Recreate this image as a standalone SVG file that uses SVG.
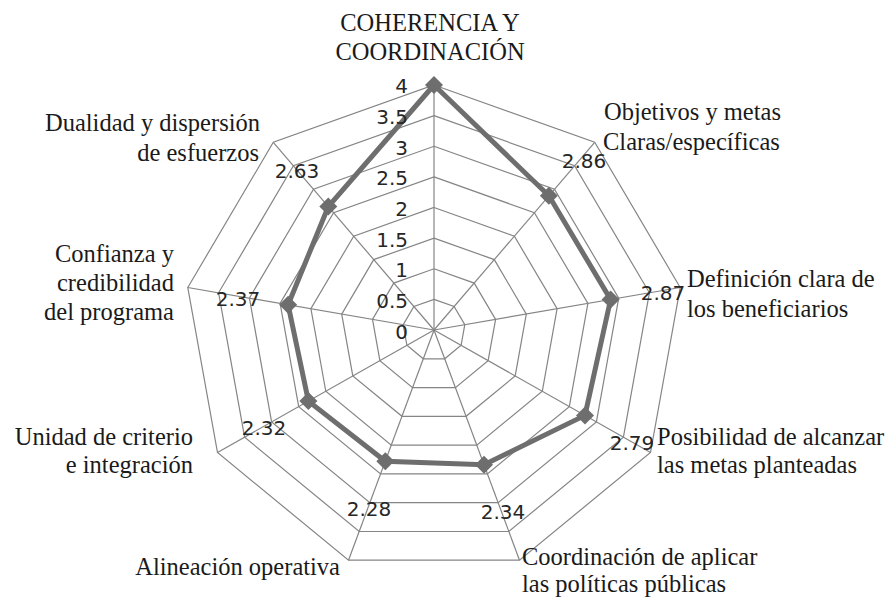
<svg xmlns="http://www.w3.org/2000/svg" width="895" height="597" viewBox="0 0 895 597">
<style>
.grid{fill:none;stroke:#858585;stroke-width:1.2}
.spoke{stroke:#858585;stroke-width:1.2}
.series{fill:none;stroke:#6e6e6e;stroke-width:5;stroke-linejoin:miter}
.mk{fill:#6e6e6e}
.tick{font-family:"DejaVu Sans",sans-serif;font-size:20px;fill:#262626;text-anchor:end}
.val{font-family:"DejaVu Sans",sans-serif;font-size:20px;fill:#262626;text-anchor:middle}
.cat{font-family:"Liberation Serif",serif;font-size:24.5px;fill:#1a1a1a}
.end{text-anchor:end}
.mid{text-anchor:middle}
</style>
<defs>
<path id="dm" d="M0,-9 L9,0 L0,9 L-9,0 Z"/>
</defs>
<rect width="895" height="597" fill="#ffffff"/>
<g id="grid">
<polygon class="grid" points="434,299.4 454.1,306.5 464.8,324.7 461.1,345.3 444.7,358.8 423.3,358.8 406.9,345.3 403.2,324.7 413.9,306.5"/>
<polygon class="grid" points="434,268.8 474.2,283.1 495.6,319.4 488.1,360.6 455.4,387.6 412.6,387.6 379.9,360.6 372.5,319.4 393.8,283.1"/>
<polygon class="grid" points="434,238.1 494.3,259.6 526.3,314.1 515.2,375.9 466.1,416.3 402.0,416.3 352.8,375.9 341.7,314.1 373.7,259.6"/>
<polygon class="grid" points="434,207.5 514.4,236.2 557.1,308.7 542.3,391.3 476.8,445.1 391.3,445.1 325.8,391.3 310.9,308.7 353.7,236.2"/>
<polygon class="grid" points="434,176.9 534.4,212.7 587.9,303.4 569.3,406.6 487.4,473.9 380.6,473.9 298.7,406.6 280.1,303.4 333.6,212.7"/>
<polygon class="grid" points="434,146.3 554.5,189.3 618.7,298.1 596.4,421.9 498.1,502.7 369.9,502.7 271.6,421.9 249.4,298.1 313.5,189.3"/>
<polygon class="grid" points="434,115.6 574.6,165.8 649.4,292.8 623.4,437.2 508.8,531.5 359.2,531.5 244.6,437.2 218.6,292.8 293.4,165.8"/>
<polygon class="grid" points="434,85 594.7,142.3 680.2,287.5 650.5,452.5 519.5,560.2 348.5,560.2 217.5,452.5 187.8,287.5 273.3,142.3"/>
</g>
<g id="connectors">
<line class="spoke" x1="434" y1="330" x2="434" y2="85"/>
<line class="spoke" x1="434" y1="330" x2="594.7" y2="142.3"/>
<line class="spoke" x1="434" y1="330" x2="680.2" y2="287.5"/>
<line class="spoke" x1="434" y1="330" x2="650.5" y2="452.5"/>
<line class="spoke" x1="434" y1="330" x2="519.5" y2="560.2"/>
<line class="spoke" x1="434" y1="330" x2="348.5" y2="560.2"/>
<line class="spoke" x1="434" y1="330" x2="217.5" y2="452.5"/>
<line class="spoke" x1="434" y1="330" x2="187.8" y2="287.5"/>
<line class="spoke" x1="434" y1="330" x2="273.3" y2="142.3"/>
<polygon class="series" points="434,85 548.9,195.8 610.6,299.5 585.0,415.4 484.0,464.7 385.3,461.2 308.4,401.1 288.1,304.8 328.3,206.6"/>
</g>
<g id="ticks">
<text class="tick" x="408" y="93">4</text>
<text class="tick" x="408" y="124">3.5</text>
<text class="tick" x="408" y="155">3</text>
<text class="tick" x="408" y="185">2.5</text>
<text class="tick" x="408" y="216">2</text>
<text class="tick" x="408" y="247">1.5</text>
<text class="tick" x="408" y="277">1</text>
<text class="tick" x="408" y="308">0.5</text>
<text class="tick" x="408" y="339">0</text>
</g>
<g id="n0"><use href="#dm" class="mk" x="434" y="85"/><text class="cat mid" x="430" y="31">COHERENCIA Y</text><text class="cat mid" x="430" y="60">COORDINACIÓN</text></g>
<g id="n1"><use href="#dm" class="mk" x="548.9" y="195.8"/><text class="val" x="584" y="168">2.86</text><text class="cat" x="604" y="120">Objetivos y metas</text><text class="cat" x="603" y="150">Claras/específicas</text></g>
<g id="n2"><use href="#dm" class="mk" x="610.6" y="299.5"/><text class="val" x="663" y="300">2.87</text><text class="cat" x="687" y="287">Definición clara de</text><text class="cat" x="687" y="317">los beneficiarios</text></g>
<g id="n3"><use href="#dm" class="mk" x="585.0" y="415.4"/><text class="val" x="632" y="450">2.79</text><text class="cat" x="657" y="445">Posibilidad de alcanzar</text><text class="cat" x="657" y="473">las metas planteadas</text></g>
<g id="n4"><use href="#dm" class="mk" x="484.0" y="464.7"/><text class="val" x="503" y="519">2.34</text><text class="cat" x="522" y="565">Coordinación de aplicar</text><text class="cat" x="522" y="592">las políticas públicas</text></g>
<g id="n5"><use href="#dm" class="mk" x="385.3" y="461.2"/><text class="val" x="369" y="516">2.28</text><text class="cat end" x="340" y="575">Alineación operativa</text></g>
<g id="n6"><use href="#dm" class="mk" x="308.4" y="401.1"/><text class="val" x="264" y="435">2.32</text><text class="cat end" x="193" y="445">Unidad de criterio</text><text class="cat end" x="193" y="473">e integración</text></g>
<g id="n7"><use href="#dm" class="mk" x="288.1" y="304.8"/><text class="val" x="238" y="306">2.37</text><text class="cat end" x="174" y="262">Confianza y</text><text class="cat end" x="174" y="291">credibilidad</text><text class="cat end" x="174" y="320">del programa</text></g>
<g id="n8"><use href="#dm" class="mk" x="328.3" y="206.6"/><text class="val" x="297" y="178">2.63</text><text class="cat end" x="260" y="131">Dualidad y dispersión</text><text class="cat end" x="259" y="161">de esfuerzos</text></g>
</svg>
